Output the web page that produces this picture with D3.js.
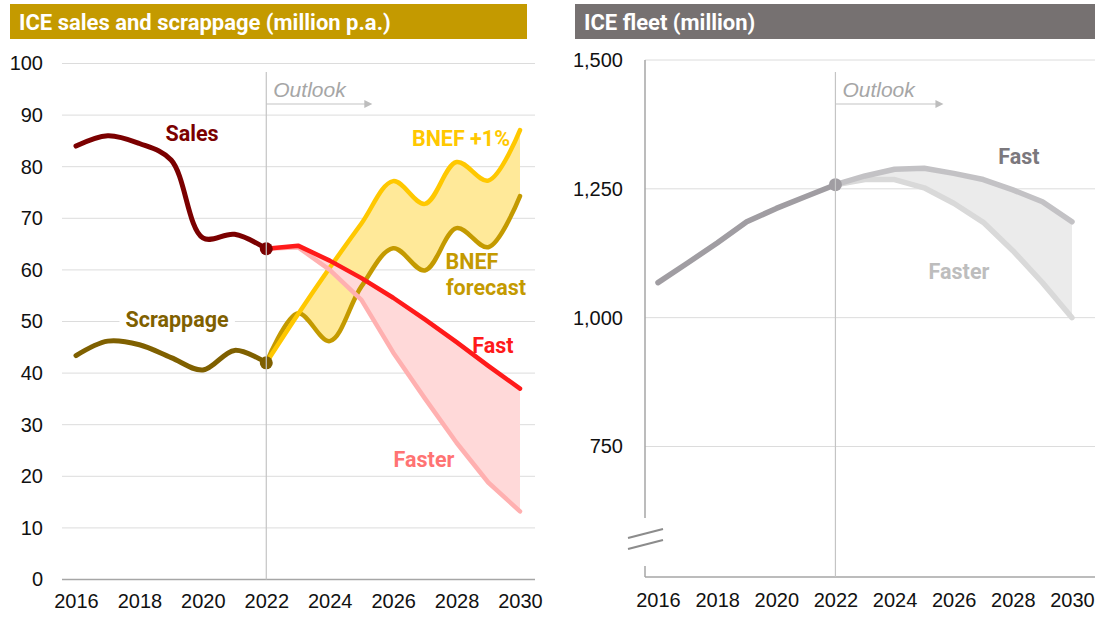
<!DOCTYPE html>
<html>
<head>
<meta charset="utf-8">
<style>
  body { margin: 0; background: #fff; }
  svg text { font-family: "Liberation Sans", Arial, sans-serif; }
  .lbl { font-family: Roboto, sans-serif; font-weight: bold; font-size: 21.5px; }
</style>
</head>
<body>
<div id="chart"></div>
<script src="https://d3js.org/d3.v7.min.js"></script>
<script>
// history (2016-2022)
const histYears = [2016, 2017, 2018, 2019, 2020, 2021, 2022];
const sales = [84, 86, 84.5, 81.3, 66.2, 66.9, 64.1];
const scrappage = [43.4, 46.2, 45.5, 43, 40.6, 44.4, 42];

// outlook (2022-2030)
const outYears = [2022, 2023, 2024, 2025, 2026, 2027, 2028, 2029, 2030];
const bnef = [42, 51.6, 46.2, 56.8, 64.2, 59.9, 68.1, 64.4, 74.3];
const bnefPlus = [42, 51.4, 60.4, 69, 77.2, 72.8, 80.9, 77.3, 87.1];
const salesFast = [64.1, 64.7, 61.8, 58.4, 54.6, 50.4, 46, 41.4, 37];
const salesFaster = [64.1, 64.4, 60, 54.2, 44, 35.1, 26.5, 18.8, 13.2];

// fleet
const fleetHist = [1068, 1106, 1145, 1186, 1212, 1235, 1258];
const fleetFast = [1258, 1275, 1288, 1290, 1280, 1268, 1248, 1225, 1186];
const fleetFaster = [1258, 1268, 1268, 1252, 1222, 1185, 1130, 1068, 1000];

const yearTicks = [2016, 2018, 2020, 2022, 2024, 2026, 2028, 2030];
const leftTicks = d3.range(0, 101, 10);
const rightTicks = [750, 1000, 1250, 1500];

const svg = d3.select('#chart').append('svg')
  .attr('width', 1102)
  .attr('height', 617);

const xL = d3.scaleLinear([2016, 2030], [76, 520]);
const yL = d3.scaleLinear([0, 100], [579.5, 63.5]);
const xR = d3.scaleLinear([2016, 2030], [658, 1072]);
const yR = d3.scaleLinear([750, 1500], [446.5, 60]);

const tickFont = sel => sel.style('font-size', '20px').attr('fill', '#111')
  .style('font-family', '"Liberation Sans", Arial, sans-serif');

// title bars
function titleBar(x, w, color, text) {
  svg.append('rect').attr('x', x).attr('y', 4).attr('width', w).attr('height', 35).attr('fill', color);
  svg.append('text').attr('x', x + 9).attr('y', 29.5)
    .style('font-family', 'Roboto, sans-serif').style('font-weight', 'bold')
    .style('font-size', '22px').attr('fill', '#fff').text(text);
}
titleBar(10, 517, '#c49a00', 'ICE sales and scrappage (million p.a.)');
titleBar(575, 520, '#767171', 'ICE fleet (million)');

// ---------- left panel ----------
const gL = svg.append('g');
gL.selectAll('.grid').data(leftTicks.filter(d => d > 0)).enter().append('line')
  .attr('x1', 62).attr('x2', 535)
  .attr('y1', d => yL(d)).attr('y2', d => yL(d))
  .attr('stroke', '#dcdcdc').attr('stroke-width', 1);
gL.append('line').attr('x1', 62).attr('x2', 535).attr('y1', yL(0)).attr('y2', yL(0))
  .attr('stroke', '#a6a6a6').attr('stroke-width', 1.5);

const axL = gL.append('g').attr('transform', 'translate(62,0)')
  .call(d3.axisLeft(yL).tickValues(leftTicks).tickSize(0).tickPadding(19));
axL.select('.domain').remove();
tickFont(axL.selectAll('text'));

const axLB = gL.append('g').attr('transform', `translate(0,${yL(0)})`)
  .call(d3.axisBottom(xL).tickValues(yearTicks).tickFormat(d3.format('d')).tickSize(0).tickPadding(14));
axLB.select('.domain').remove();
tickFont(axLB.selectAll('text'));

// outlook divider
function outlook(xs, ytop, ybot, arrowLen) {
  const x0 = xs(2022);
  svg.append('line').attr('x1', x0).attr('x2', x0).attr('y1', ytop).attr('y2', ybot)
    .attr('stroke', '#c4c4c4').attr('stroke-width', 1.2);
  svg.append('text').attr('x', x0 + 7).attr('y', ytop + 25)
    .style('font-style', 'italic').style('font-size', '21px').attr('fill', '#a6a6a6').text('Outlook');
  svg.append('line').attr('x1', x0).attr('x2', x0 + arrowLen - 6).attr('y1', ytop + 32).attr('y2', ytop + 32)
    .attr('stroke', '#c4c4c4').attr('stroke-width', 1.2);
  svg.append('path')
    .attr('d', `M${x0 + arrowLen},${ytop + 32} l-8,-4 l0,8 z`)
    .attr('fill', '#bdbdbd');
}
outlook(xL, 72, yL(0), 106);

const smooth = d3.curveCatmullRom.alpha(0.5);
const lineL = (vals, yrs, curve) => d3.line()
  .x((d, i) => xL(yrs[i])).y(d => yL(d)).curve(curve)(vals);
const areaL = (lo, hi, curve) => d3.area()
  .x((d, i) => xL(outYears[i])).y0((d, i) => yL(lo[i])).y1(d => yL(d)).curve(curve)(hi);

// fills
gL.append('path').attr('d', areaL(bnef, bnefPlus, smooth)).attr('fill', '#ffe999');
gL.append('path').attr('d', areaL(salesFaster, salesFast, d3.curveLinear)).attr('fill', '#ffd9d9');

// lines
const lineStyle = (p, color, w) => p.attr('fill', 'none').attr('stroke', color)
  .attr('stroke-width', w).attr('stroke-linecap', 'round').attr('stroke-linejoin', 'round');

lineStyle(gL.append('path').attr('d', lineL(bnef, outYears, smooth)), '#c49a00', 4.5);
lineStyle(gL.append('path').attr('d', lineL(bnefPlus, outYears, smooth)), '#ffc800', 4.5);
lineStyle(gL.append('path').attr('d', lineL(salesFaster, outYears, d3.curveLinear)), '#ffb0b0', 4.5);
lineStyle(gL.append('path').attr('d', lineL(salesFast, outYears, d3.curveLinear)), '#ff1a1a', 4.5);
lineStyle(gL.append('path').attr('d', lineL(sales, histYears, smooth)), '#7b0000', 5);
lineStyle(gL.append('path').attr('d', lineL(scrappage, histYears, smooth)), '#7f6000', 5);

gL.append('circle').attr('cx', xL(2022)).attr('cy', yL(sales[6])).attr('r', 6.5).attr('fill', '#7b0000');
gL.append('circle').attr('cx', xL(2022)).attr('cy', yL(scrappage[6])).attr('r', 6.5).attr('fill', '#7f6000');

// labels
function label(x, y, text, color, bg) {
  const t = svg.append('text').attr('class', 'lbl').attr('x', x).attr('y', y)
    .attr('text-anchor', 'middle').attr('fill', color).text(text);
  if (bg) {
    const b = t.node().getBBox();
    svg.insert('rect', () => t.node()).attr('x', b.x - 6).attr('y', b.y).attr('width', b.width + 12)
      .attr('height', b.height).attr('fill', '#fff');
  }
}
label(192, 141, 'Sales', '#7b0000');
label(177, 327, 'Scrappage', '#7f6000', true);
label(461, 146, 'BNEF +1%', '#ffc800');
label(472, 269, 'BNEF', '#c49a00');
label(486, 295, 'forecast', '#c49a00');
label(493, 353, 'Fast', '#ff1a1a');
label(424, 467, 'Faster', '#ff7373');

// ---------- right panel ----------
const gR = svg.append('g');
gR.selectAll('.grid').data(rightTicks).enter().append('line')
  .attr('x1', 645).attr('x2', 1095)
  .attr('y1', d => yR(d)).attr('y2', d => yR(d))
  .attr('stroke', '#dcdcdc').attr('stroke-width', 1);

const axR = gR.append('g').attr('transform', 'translate(645,0)')
  .call(d3.axisLeft(yR).tickValues(rightTicks).tickFormat(d3.format(',')).tickSize(0).tickPadding(22));
axR.select('.domain').remove();
tickFont(axR.selectAll('text'));

const bottomR = 577;
const axRB = gR.append('g').attr('transform', `translate(0,${bottomR})`)
  .call(d3.axisBottom(xR).tickValues(yearTicks).tickFormat(d3.format('d')).tickSize(0).tickPadding(16));
axRB.select('.domain').remove();
tickFont(axRB.selectAll('text'));

// axis lines with break
gR.append('line').attr('x1', 645).attr('x2', 1095).attr('y1', bottomR).attr('y2', bottomR)
  .attr('stroke', '#a6a6a6').attr('stroke-width', 1.5);
gR.append('line').attr('x1', 645).attr('x2', 645).attr('y1', 60).attr('y2', 518)
  .attr('stroke', '#a6a6a6').attr('stroke-width', 1.5);
gR.append('line').attr('x1', 645).attr('x2', 645).attr('y1', 566).attr('y2', bottomR)
  .attr('stroke', '#a6a6a6').attr('stroke-width', 1.5);
[0, 11].forEach(dy => {
  gR.append('line').attr('x1', 628).attr('x2', 663).attr('y1', 538 + dy).attr('y2', 529 + dy)
    .attr('stroke', '#8c8c8c').attr('stroke-width', 2.2);
});

outlook(xR, 72, bottomR, 108);

const lineR = (vals, yrs) => d3.line().x((d, i) => xR(yrs[i])).y(d => yR(d))(vals);
gR.append('path')
  .attr('d', d3.area().x((d, i) => xR(outYears[i])).y0((d, i) => yR(fleetFaster[i])).y1(d => yR(d))(fleetFast))
  .attr('fill', '#ebebeb');
lineStyle(gR.append('path').attr('d', lineR(fleetFaster, outYears)), '#d9d9d9', 5.5);
lineStyle(gR.append('path').attr('d', lineR(fleetFast, outYears)), '#c3c2c5', 5.5);
lineStyle(gR.append('path').attr('d', lineR(fleetHist, histYears)), '#a09da2', 5.5);
gR.append('circle').attr('cx', xR(2022)).attr('cy', yR(fleetHist[6])).attr('r', 6.5).attr('fill', '#a09da2');

label(1019, 164, 'Fast', '#7b787d');
label(959, 279, 'Faster', '#bdbdbd');
</script>
</body>
</html>
